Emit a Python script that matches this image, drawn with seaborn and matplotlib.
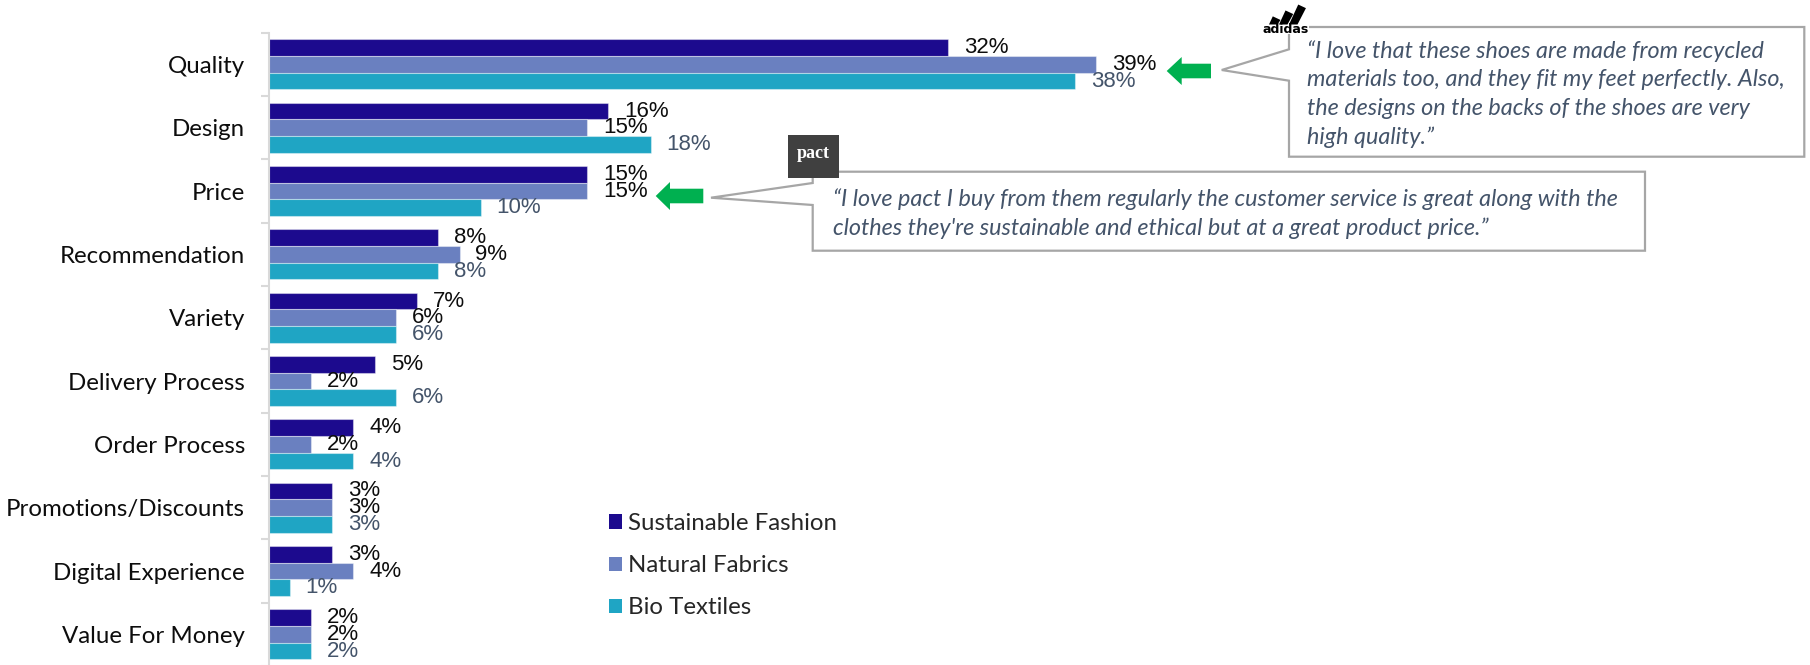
import numpy as np
import pandas as pd
import matplotlib
matplotlib.use("Agg")
import matplotlib.pyplot as plt
import matplotlib.transforms as mtransforms
from matplotlib.patches import Polygon, Rectangle, Patch
import seaborn as sns

# ---- data -------------------------------------------------------------
factors = ["Quality", "Design", "Price", "Recommendation", "Variety",
           "Delivery Process", "Order Process", "Promotions/Discounts",
           "Digital Experience", "Value For Money"]
series = ["Sustainable Fashion", "Natural Fabrics", "Bio Textiles"]
sustainable_fashion = [32, 16, 15, 8, 7, 5, 4, 3, 3, 2]
natural_fabrics = [39, 15, 15, 9, 6, 2, 2, 3, 4, 2]
bio_textiles = [38, 18, 10, 8, 6, 6, 4, 3, 1, 2]

quote_adidas = [
    "\u201cI love that these shoes are made from recycled",
    "materials too, and they fit my feet perfectly. Also,",
    "the designs on the backs of the shoes are very",
    "high quality.\u201d",
]
quote_pact = [
    "\u201cI love pact I buy from them regularly the customer service is great along with the",
    "clothes they're sustainable and ethical but at a great product price.\u201d",
]

# ---- style ------------------------------------------------------------
bar_colors = ["#1c0a8e", "#6a80c0", "#1fa5c4"]
label_colors = ["#0d0d0d", "#0d0d0d", "#44546a"]
quote_color = "#44546a"
frame_color = "#a6a6a6"
arrow_color = "#00b050"

sns.set_style("white")
plt.rcParams["font.family"] = ["Lato", "DejaVu Sans"]

W, H = 1810, 665
fig = plt.figure(figsize=(W / 100, H / 100), dpi=100)
fig.patch.set_facecolor("white")
# pixel coordinates measured from the top-left corner of the figure
PX = mtransforms.Affine2D().scale(1 / W, -1 / H).translate(0, 1) + fig.transFigure

left_px, top_px, row_px, px_per_pct = 268.5, 32.7, 63.33, 21.225
ax = fig.add_axes([left_px / W, (H - (top_px + len(factors) * row_px)) / H,
                   (W - left_px) / W, len(factors) * row_px / H])

df = pd.DataFrame({
    "factor": factors * 3,
    "series": np.repeat(series, len(factors)),
    "share": sustainable_fashion + natural_fabrics + bio_textiles,
})
sns.barplot(data=df, x="share", y="factor", hue="series", order=factors,
            hue_order=series, palette=bar_colors, saturation=1, orient="h",
            width=0.79, errorbar=None, legend=False, ax=ax,
            edgecolor=(1, 1, 1, 0.4), linewidth=0.8)

ax.set_xlim(0, (W - left_px) / px_per_pct)
ax.set_ylim(len(factors) - 0.5, -0.5)

for cont, vals, col in zip(ax.containers,
                           [sustainable_fashion, natural_fabrics, bio_textiles],
                           label_colors):
    ax.bar_label(cont, labels=[f"{v}%" for v in vals], padding=11.5,
                 color=col, fontsize=16,
                 fontfamily=["Liberation Sans", "DejaVu Sans"])

ax.set_xlabel("")
ax.set_ylabel("")
ax.set_xticks([])
for s in ["top", "right", "bottom"]:
    ax.spines[s].set_visible(False)
ax.spines["left"].set_color("#d9d9d9")
ax.spines["left"].set_linewidth(1.5)
ax.set_yticks(np.arange(-0.5, len(factors), 1), minor=True)
ax.tick_params(axis="y", which="major", length=0, pad=17, labelsize=17.3,
               labelcolor="#0d0d0d")
ax.tick_params(axis="y", which="minor", left=True, length=6, width=1.5,
               color="#d9d9d9")

handles = [Patch(facecolor=c, edgecolor="none") for c in bar_colors]
ax.legend(handles, series, loc="upper left", bbox_to_anchor=(609, 513),
          bbox_transform=PX, frameon=False, fontsize=17.3, handlelength=0.53,
          handleheight=0.53, handletextpad=0.25, labelspacing=0.88,
          borderaxespad=0, borderpad=0)


# ---- quote callouts -----------------------------------------------------
def callout(box, tip, base):
    x0, y0, x1, y1 = box
    pts = [(x0, y0), (x1, y0), (x1, y1), (x0, y1), (x0, base[1]), tip,
           (x0, base[0])]
    fig.add_artist(Polygon(pts, closed=True, transform=PX, facecolor="white",
                           edgecolor=frame_color, lw=1.6, joinstyle="miter"))


def green_arrow(tip_x, head_x, tail_x, cy, head_half=14, body_half=7.3):
    pts = [(tip_x, cy), (head_x, cy - head_half), (head_x, cy - body_half),
           (tail_x, cy - body_half), (tail_x, cy + body_half),
           (head_x, cy + body_half), (head_x, cy + head_half)]
    fig.add_artist(Polygon(pts, closed=True, transform=PX,
                           facecolor=arrow_color, edgecolor="none"))


callout((1289, 27, 1804.3, 156.7), (1221.7, 70), (49.3, 80.7))
callout((812.7, 171.7, 1645, 250.7), (711, 197.7), (183, 205))
green_arrow(1166.7, 1181.7, 1211, 71)
green_arrow(655.7, 670, 703.3, 196)

for i, line in enumerate(quote_adidas):
    fig.text(1306.5, 51 + i * 28.9, line, transform=PX, fontsize=16.8,
             style="italic", color=quote_color, ha="left", va="center")
for i, line in enumerate(quote_pact):
    fig.text(833, 199 + i * 29.5, line, transform=PX, fontsize=16.8,
             style="italic", color=quote_color, ha="left", va="center")

# adidas mark: three slanted stripes over the word mark
dx, dy = 0.42, -0.907
for bx, length in zip([1269, 1279, 1289], [9, 15.5, 22]):
    bl = (bx, 24.5)
    br = (bx + 8.5, 24.5)
    tl = (bx + length * dx, 24.5 + length * dy)
    tr = (tl[0] + 7.7, tl[1] + 3.6)
    fig.add_artist(Polygon([bl, br, tr, tl], closed=True, transform=PX,
                           facecolor="black", edgecolor="none", zorder=3))
fig.add_artist(Rectangle((1262, 33.5), 47, -8.5, transform=PX,
                         facecolor="white", edgecolor="none", zorder=3))
fig.text(1285.5, 29.8, "adidas", transform=PX, fontsize=9, weight="bold",
         color="black", ha="center", va="center", family="DejaVu Sans",
         zorder=4)

# pact mark
fig.add_artist(Rectangle((788, 178), 51, -43, transform=PX,
                         facecolor="#404040", edgecolor="none", zorder=3))
fig.text(813.5, 153, "pact", transform=PX, fontsize=13, weight="bold",
         color="white", ha="center", va="center", zorder=4,
         family=["Liberation Serif", "DejaVu Serif"])

fig.savefig("out.png", dpi=100, facecolor="white")
